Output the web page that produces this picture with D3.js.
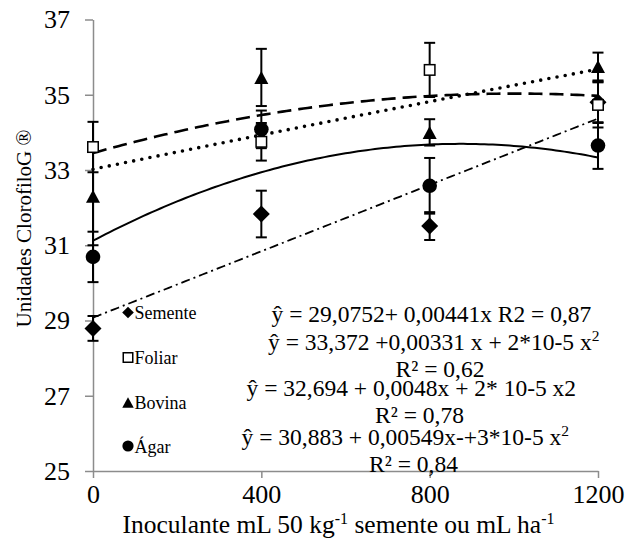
<!DOCTYPE html>
<html>
<head>
<meta charset="utf-8">
<script src="https://cdn.jsdelivr.net/npm/d3@7/dist/d3.min.js"></script>
<style>
  html, body { margin: 0; padding: 0; background: #fff; }
  svg { display: block; }
</style>
</head>
<body>
<svg id="chart" width="628" height="539"></svg>
<script>
// Inoculant doses (mL 50 kg-1 seed or mL ha-1)
const doses = [0, 400, 800, 1200];

// Mean chlorophyll readings per inoculation method
const semente = [28.79, 31.83, 31.51, 34.80];
const foliar  = [33.61, 33.75, 35.66, 34.73];
const bovina  = [32.30, 35.46, 34.00, 35.75];
const agar    = [30.69, 34.08, 32.58, 33.65];

// Error bar half-widths
const errSemente = [0.33, 0.62, 0.37, 0.55];
const errFoliar  = [0.67, 0.50, 0.72, 0.60];
const errBovina  = [1.30, 0.76, 0.35, 0.37];
const errAgar    = [0.67, 0.50, 0.74, 0.62];

// Trend curves: [intercept, linear, quadratic]
const trendSemente = [29.0752, 0.00441, 0];
const trendFoliar  = [33.45, 0.003154, -1.573e-6];
const trendBovina  = [33.02, 0.002304, -7.3e-8];
const trendAgar    = [31.12, 0.0059, -3.38e-6];

const yTicks = [25, 27, 29, 31, 33, 35, 37];
const xTicks = [0, 400, 800, 1200];

const seriesNames = ["Semente", "Foliar", "Bovina", "Ágar"];

const FONT = '"Liberation Serif"';
const svg = d3.select("#chart");

const x = d3.scaleLinear().domain([0, 1200]).range([93, 598]);
const y = d3.scaleLinear().domain([25, 37]).range([471, 19.5]);

// Axes
const yAxis = svg.append("g")
  .attr("transform", `translate(${x(0)},0)`)
  .call(d3.axisLeft(y).tickValues(yTicks).tickFormat(d3.format("d")).tickSize(8).tickPadding(15).tickSizeOuter(0));
const xAxis = svg.append("g")
  .attr("transform", `translate(0,${y(25)})`)
  .call(d3.axisBottom(x).tickValues(xTicks).tickFormat(d3.format("d")).tickSize(7).tickSizeOuter(0));

[yAxis, xAxis].forEach(g => {
  g.select(".domain").attr("stroke", "#8c8c8c").attr("stroke-width", 1.5);
  g.selectAll(".tick line").attr("stroke", "#8c8c8c").attr("stroke-width", 1.5);
  g.selectAll(".tick text").style("font-family", FONT).attr("font-size", 26).attr("fill", "#000");
});
xAxis.selectAll(".tick text").attr("dy", null).attr("y", 32);

// Axis titles
svg.append("text")
  .attr("transform", "translate(31,228.5) rotate(-90)")
  .attr("text-anchor", "middle")
  .style("font-family", FONT)
  .attr("font-size", 21)
  .text("Unidades ClorofiloG ®");

const xt = svg.append("text")
  .attr("x", 338.5).attr("y", 533)
  .attr("text-anchor", "middle")
  .style("font-family", FONT)
  .attr("font-size", 25.5);
xt.append("tspan").text("Inoculante mL 50 kg");
xt.append("tspan").attr("font-size", 16).attr("dy", -9).text("-1");
xt.append("tspan").attr("dy", 9).text(" semente ou mL ha");
xt.append("tspan").attr("font-size", 16).attr("dy", -9).text("-1");

// Trend curves
const samples = d3.range(0, 1201, 10);
const poly = c => v => c[0] + c[1] * v + c[2] * v * v;
const lineGen = f => d3.line().x(v => x(v)).y(v => y(f(v)))(samples);

const trends = [
  { c: trendSemente, dash: "9,4,2,4", w: 1.8, cap: "butt" },
  { c: trendFoliar,  dash: "14,7",    w: 2.6, cap: "butt" },
  { c: trendBovina,  dash: "0,8.3",   w: 3.6, cap: "round" },
  { c: trendAgar,    dash: null,      w: 2,   cap: "butt" }
];
trends.forEach(t => {
  svg.append("path")
    .attr("d", lineGen(poly(t.c)))
    .attr("fill", "none")
    .attr("stroke", "#000")
    .attr("stroke-width", t.w)
    .attr("stroke-linecap", t.cap)
    .attr("stroke-dasharray", t.dash);
});

// Marker shapes
const diamond = s => `M0,${-s}L${s},0L0,${s}L${-s},0Z`;
const triangle = (w, h) => `M0,${-h / 2}L${w / 2},${h / 2}L${-w / 2},${h / 2}Z`;

const series = [
  { vals: semente, err: errSemente, draw: (g, big) => g.append("path").attr("d", diamond(big ? 8.5 : 5.8)).attr("fill", "#000") },
  { vals: foliar,  err: errFoliar,  draw: (g, big) => { const s = big ? 10.5 : 9.5; g.append("rect").attr("x", -s / 2).attr("y", -s / 2).attr("width", s).attr("height", s).attr("fill", "#fff").attr("stroke", "#000").attr("stroke-width", 1.5); } },
  { vals: bovina,  err: errBovina,  draw: (g, big) => g.append("path").attr("d", big ? triangle(14, 13) : triangle(11.5, 10.5)).attr("fill", "#000") },
  { vals: agar,    err: errAgar,    draw: (g, big) => g.append("circle").attr("r", big ? 7.3 : 5.6).attr("fill", "#000") }
];

// Error bars
series.forEach(s => {
  const g = svg.append("g").attr("stroke", "#000").attr("stroke-width", 2);
  doses.forEach((d, i) => {
    const lo = y(s.vals[i] - s.err[i]), hi = y(s.vals[i] + s.err[i]), cx = x(d);
    g.append("line").attr("x1", cx).attr("x2", cx).attr("y1", lo).attr("y2", hi);
    g.append("line").attr("x1", cx - 5.5).attr("x2", cx + 5.5).attr("y1", lo).attr("y2", lo);
    g.append("line").attr("x1", cx - 5.5).attr("x2", cx + 5.5).attr("y1", hi).attr("y2", hi);
  });
});

// Data markers
series.forEach(s => {
  doses.forEach((d, i) => {
    const g = svg.append("g").attr("transform", `translate(${x(d)},${y(s.vals[i])})`);
    s.draw(g, true);
  });
});

// Legend
const legendY = [312.5, 357.5, 402.5, 446];
series.forEach((s, i) => {
  const g = svg.append("g").attr("transform", `translate(128,${legendY[i]})`);
  s.draw(g, false);
  svg.append("text")
    .attr("x", 134.5).attr("y", legendY[i] + 6.5)
    .style("font-family", FONT)
    .attr("font-size", 18)
    .text(seriesNames[i]);
});

// Regression equations
const eqSize = 23.5;
function eq(xp, yp, parts, anchor) {
  const t = svg.append("text").attr("x", xp).attr("y", yp)
    .style("font-family", FONT)
    .attr("font-size", eqSize).attr("text-anchor", anchor || "start");
  parts.forEach(p => {
    if (p.sup) t.append("tspan").attr("font-size", 15.5).attr("dy", -9.5).text(p.sup);
    else t.append("tspan").text(p.t);
  });
}
eq(271.5, 321.5, [{ t: "ŷ = 29,0752+ 0,00441x  R2 = 0,87" }]);
eq(268, 350, [{ t: "ŷ = 33,372 +0,00331 x + 2*10-5 x" }, { sup: "2" }]);
eq(440, 376.5, [{ t: "R² = 0,62" }], "middle");
eq(246.5, 396, [{ t: "ŷ = 32,694 + 0,0048x + 2* 10-5 x2" }]);
eq(419.5, 423, [{ t: "R² = 0,78" }], "middle");
eq(241.5, 445, [{ t: "ŷ = 30,883 + 0,00549x-+3*10-5 x" }, { sup: "2" }]);
eq(413.5, 472, [{ t: "R² = 0,84" }], "middle");
</script>
</body>
</html>
